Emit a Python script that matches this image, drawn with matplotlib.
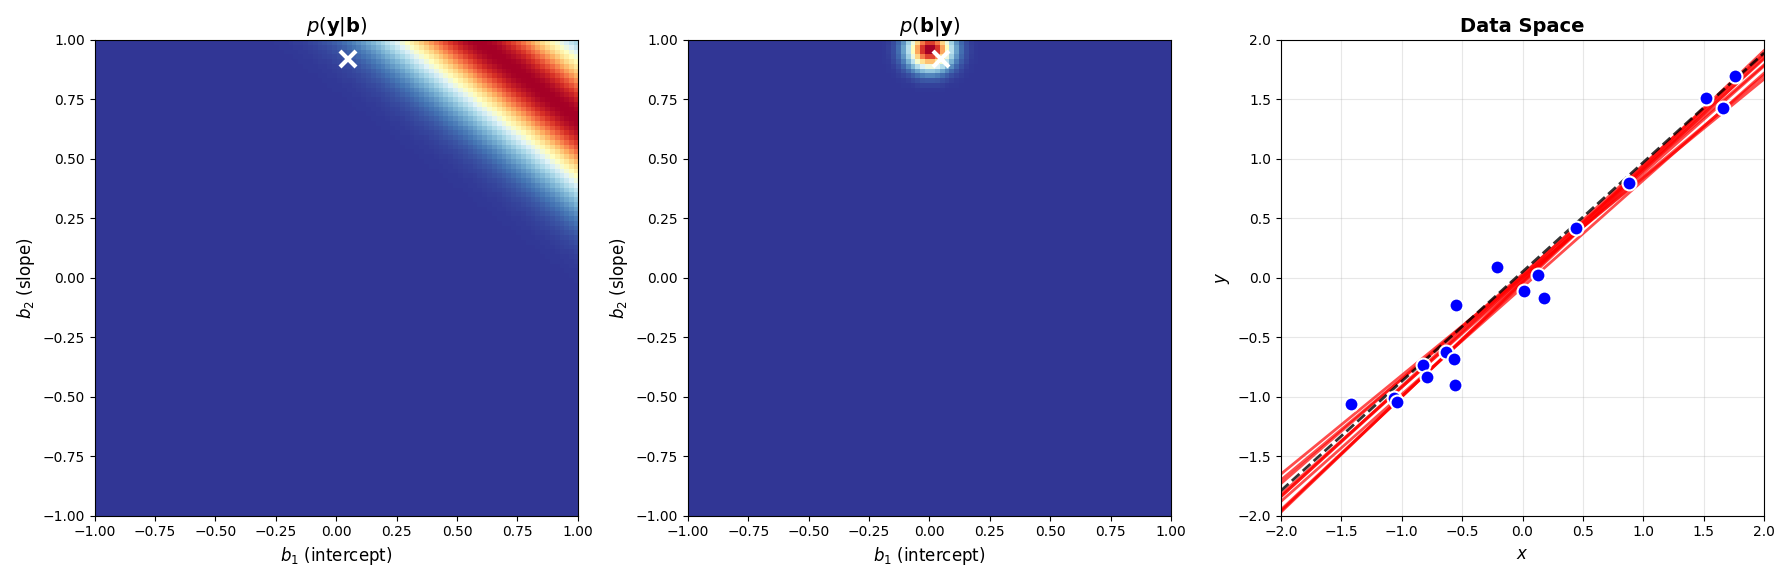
import numpy as np
import matplotlib
matplotlib.use("Agg")
import matplotlib.pyplot as plt

true_b = (0.05, 0.92)
lik_point = (1.25, 1.85)
lik_sigma = 0.26
post_mean = (0.0, 0.97)
post_sd = (0.06, 0.055)

xs = [-1.42, -1.06, -1.04, -0.82, -0.79, -0.63, -0.57, -0.56, -0.55, -0.21, 0.01, 0.13, 0.18, 0.44, 0.88, 1.52, 1.66, 1.76]
ys = [-1.06, -1.01, -1.04, -0.73, -0.83, -0.62, -0.68, -0.90, -0.23, 0.09, -0.11, 0.02, -0.17, 0.42, 0.80, 1.51, 1.43, 1.70]

sample_b1 = [0.00, -0.02, 0.03, -0.05, 0.00, -0.03, 0.02, -0.08, 0.01, -0.04]
sample_b2 = [0.92, 0.90, 0.88, 0.95, 0.85, 0.97, 0.93, 0.90, 0.83, 0.96]

n = 100
g = np.linspace(-1, 1, n)
B1, B2 = np.meshgrid(g, g)
lik = np.exp(-0.5 * ((lik_point[1] - (B1 + B2 * lik_point[0])) / lik_sigma) ** 2)
post = np.exp(-0.5 * (((B1 - post_mean[0]) / post_sd[0]) ** 2 + ((B2 - post_mean[1]) / post_sd[1]) ** 2))

fig, axes = plt.subplots(1, 3, figsize=(17.9, 5.82), dpi=100)
for ax, Z, title in [(axes[0], lik, r'$p(\mathbf{y}|\mathbf{b})$'), (axes[1], post, r'$p(\mathbf{b}|\mathbf{y})$')]:
    ax.imshow(Z, origin='lower', extent=[-1, 1, -1, 1], cmap='RdYlBu_r', aspect='auto', interpolation='nearest')
    ax.plot(*true_b, marker='x', color='white', markersize=12, mew=3)
    ax.set_title(title, fontsize=14)
    ax.set_xlabel(r'$b_1$ (intercept)', fontsize=12)
    ax.set_ylabel(r'$b_2$ (slope)', fontsize=12)
    ax.set_xticks(np.arange(-1, 1.01, 0.25))
    ax.set_yticks(np.arange(-1, 1.01, 0.25))

ax = axes[2]
xl = np.array([-2, 2])
for b1, b2 in zip(sample_b1, sample_b2):
    ax.plot(xl, b1 + b2 * xl, color='red', alpha=0.7, lw=2)
ax.plot(xl, true_b[0] + true_b[1] * xl, 'k--', lw=2, alpha=0.8)
ax.scatter(xs, ys, s=100, color='blue', edgecolor='white', linewidth=1.5, zorder=5)
ax.set_xlim(-2, 2)
ax.set_ylim(-2, 2)
ax.grid(alpha=0.3)
ax.set_title('Data Space', fontsize=14, fontweight='bold')
ax.set_xlabel(r'$x$', fontsize=12)
ax.set_ylabel(r'$y$', fontsize=12)

plt.tight_layout()
plt.savefig('out.png')
